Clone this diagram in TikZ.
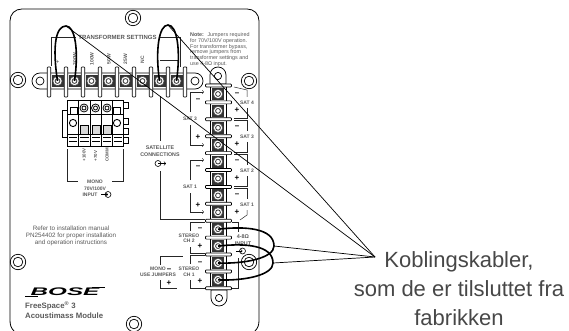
\documentclass[tikz,border=0pt]{standalone}
\usepackage{fontspec}
\setmainfont{Liberation Sans}
\definecolor{printgray}{gray}{0.35}
\definecolor{calloutgray}{gray}{0.28}
\newcommand{\screw}[3]{%
  \coordinate (#1) at (#2,#3);
  \fill[black!80] ([xshift=-6pt,yshift=-6pt]#1) rectangle ([xshift=6pt,yshift=6pt]#1);
  \draw[black!70,fill=white,line width=0.5pt] (#1) circle (4.6pt);
  \draw[black!80,fill=white,line width=0.8pt] (#1) circle (2.4pt);
}
\newcommand{\mounthole}[3]{%
  \coordinate (#1) at (#2,#3);
  \draw[black,line width=0.7pt] (#1) circle (7.7pt);
  \draw[black,line width=0.7pt] (#1) circle (4.8pt);
}
\tikzset{
  panelline/.style={black,line width=0.8pt},
  post/.style={draw=black,fill=white,line width=0.7pt,rounded corners=0.8pt},
  bracket/.style={black!85,line width=0.5pt},
  leader/.style={black,line width=0.7pt},
  jumper/.style={black,line width=1.6pt},
  smalllbl/.style={text=printgray,font=\fontsize{5}{6}\selectfont\bfseries,align=center,inner sep=0pt},
  sign/.style={text=black,font=\fontsize{8}{8}\selectfont\bfseries,inner sep=0pt},
  printtxt/.style={text=printgray,font=\fontsize{6.3}{7.1}\selectfont,align=center,inner sep=0pt},
}
\begin{document}
\begin{tikzpicture}[x=1pt,y=-1pt]
\useasboundingbox (0,0) rectangle (569,331);

% panel:
\draw[panelline] (14,331) .. controls (11,328) and (10,325) .. (10,320) -- (10,21)
  .. controls (10,14) and (15,9) .. (22,9) -- (247,9)
  .. controls (254,9) and (259,14) .. (259,21) -- (259,320)
  .. controls (259,325) and (258,328) .. (255,331);
\mounthole{holetop}{133}{18}
\mounthole{holeleft}{18}{80}
\mounthole{holeright}{249}{81}
\mounthole{holelow}{18}{262}
\mounthole{holeinput}{249}{262}
\mounthole{holebottom}{134}{324}

% transformer strip:
\draw[black,fill=white,line width=0.7pt] (47,73) -- (40,73) arc[start angle=270,end angle=90,radius=8]
  -- (195,89) arc[start angle=90,end angle=-90,radius=8] -- cycle;
\draw[black,line width=0.7pt] (40,81) circle (4pt);
\draw[black,line width=0.7pt] (195,81) circle (4pt);
\draw[post] (47.2,67) rectangle (50.8,97);
\draw[post] (64.2,67) rectangle (67.8,97);
\draw[post] (81.2,67) rectangle (84.8,97);
\draw[post] (98.2,67) rectangle (101.8,97);
\draw[post] (115.2,67) rectangle (118.8,97);
\draw[post] (132.2,67) rectangle (135.8,97);
\draw[post] (149.2,67) rectangle (152.8,97);
\draw[post] (166.2,67) rectangle (169.8,97);
\draw[post] (183.2,67) rectangle (186.8,97);
\screw{tap1}{57.5}{81}
\screw{tap2}{74.5}{81}
\screw{tap3}{91.5}{81}
\screw{tap4}{108.5}{81}
\screw{tap5}{125.5}{81}
\screw{tap6}{142.5}{81}
\screw{tap7}{159.5}{81}
\screw{tap8}{176.5}{81}

% speaker strip:
\draw[black,fill=white,line width=0.7pt] (210,84) -- (210,75) arc[start angle=180,end angle=360,radius=8] -- (226,84) -- cycle;
\draw[black,fill=white,line width=0.7pt] (211,290) -- (211,298) arc[start angle=180,end angle=0,radius=8] -- (227,290) -- cycle;
\draw[black,line width=0.7pt] (218,76) circle (3.6pt);
\draw[black,line width=0.7pt] (219,298) circle (3.6pt);
\draw[black,fill=white,line width=0.7pt] (210,85) rectangle (226,289);
\draw[post] (205.5,84) rectangle (231.5,87);
\draw[post] (205.5,100.9) rectangle (231.5,103.9);
\draw[post] (205.5,117.8) rectangle (231.5,120.8);
\draw[post] (205.5,134.7) rectangle (231.5,137.7);
\draw[post] (205.5,151.6) rectangle (231.5,154.6);
\draw[post] (205.5,168.5) rectangle (231.5,171.5);
\draw[post] (205.5,185.4) rectangle (231.5,188.4);
\draw[post] (205.5,202.3) rectangle (231.5,205.3);
\draw[post] (205.5,219.2) rectangle (231.5,222.2);
\draw[post] (205.5,236.1) rectangle (231.5,239.1);
\draw[post] (205.5,253) rectangle (231.5,256);
\draw[post] (205.5,269.9) rectangle (231.5,272.9);
\draw[post] (205.5,286.8) rectangle (231.5,289.8);
\screw{out1}{218}{94}
\screw{out2}{218}{110.9}
\screw{out3}{218}{127.8}
\screw{out4}{218}{144.7}
\screw{out5}{218}{161.6}
\screw{out6}{218}{178.5}
\screw{out7}{218}{195.4}
\screw{out8}{218}{212.3}
\screw{out9}{218}{229.2}
\screw{out10}{218}{246.1}
\screw{out11}{218}{263}
\screw{out12}{218}{279.9}

% input block:
\draw[black,line width=0.7pt] (62,110) rectangle (67,137);
\draw[black,line width=0.7pt] (123,102) rectangle (128,108);
\draw[black,line width=0.7pt] (123,118) rectangle (128,124);
\draw[black,line width=0.7pt] (123,128) rectangle (128,134);
\draw[black,line width=0.7pt] (123,137) rectangle (128,143);
\draw[black,line width=0.9pt] (67,100) rectangle (123,146);
\draw[black,line width=0.7pt] (67,114) -- (123,114);
\draw[black,line width=0.9pt] (67,134) -- (123,134);
\draw[black,line width=0.7pt] (78,100) -- (78,146);
\draw[black,line width=0.7pt] (90,100) -- (90,146);
\draw[black,line width=0.7pt] (101,100) -- (101,146);
\draw[black,line width=0.7pt] (112,100) -- (112,146);
\draw[black,line width=0.7pt] (70,107) rectangle (77,114);
\draw[black,line width=0.7pt] (113,107) rectangle (120,114);
\draw[black,line width=0.8pt] (84,108) circle (4pt);
\draw[black,line width=0.8pt] (84,108) circle (2pt);
\draw[black,line width=0.8pt] (95.5,108) circle (4pt);
\draw[black,line width=0.8pt] (95.5,108) circle (2pt);
\draw[black,line width=0.8pt] (107,108) circle (4pt);
\draw[black,line width=0.8pt] (107,108) circle (2pt);
\draw[black,line width=0.9pt] (73,123) circle (3.6pt);
\draw[black,line width=0.9pt] (117,123) circle (3.6pt);
\draw[black,fill=black!15,line width=0.6pt] (80,125) rectangle (88,134);
\draw[black,fill=black!15,line width=0.6pt] (92,125) rectangle (100,134);
\draw[black,fill=black!15,line width=0.6pt] (103,125) rectangle (111,134);
\draw[black,line width=1pt] (69,138) -- (77,138);
\draw[black,line width=1pt] (69,142) -- (77,142);
\draw[black,line width=1pt] (80,138) -- (89,138);
\draw[black,line width=1pt] (80,142) -- (89,142);
\draw[black,line width=1pt] (92,138) -- (100,138);
\draw[black,line width=1pt] (92,142) -- (100,142);
\draw[black,line width=1pt] (103,138) -- (111,138);
\draw[black,line width=1pt] (103,142) -- (111,142);
\draw[black,line width=1pt] (114,138) -- (122,138);
\draw[black,line width=1pt] (114,142) -- (122,142);

% tap labels:
\path (58,62) node[smalllbl,rotate=90] (taplbl1) {+};
\path (75,59) node[smalllbl,rotate=90] (taplbl2) {200W};
\path (92,59) node[smalllbl,rotate=90] (taplbl3) {100W};
\path (109,59) node[smalllbl,rotate=90] (taplbl4) {50W};
\path (125.5,59) node[smalllbl,rotate=90] (taplbl5) {25W};
\path (142.5,60) node[smalllbl,rotate=90] (taplbl6) {NC};
\path (117.5,37) node[smalllbl,font=\fontsize{6}{7}\selectfont\bfseries] (settings) {TRANSFORMER SETTINGS};
\draw[bracket] (51,66) -- (51,37) -- (76,37);
\draw[bracket] (159,37) -- (180,37) -- (180,67);
\draw[bracket] (160,60) -- (178,60);
\path (190,32.5) node[printtxt,anchor=north west,align=left,font=\fontsize{5.4}{5.75}\selectfont] (note) {\textbf{Note:} \ Jumpers required\\for 70V/100V operation.\\For transformer bypass,\\remove jumpers from\\transformer settings and\\use 4-8Ω input.};

% input block labels:
\path (84,155) node[smalllbl,rotate=90,font=\fontsize{4.4}{5}\selectfont\bfseries] (inlbl1) {+100V};
\path (95.5,156) node[smalllbl,rotate=90,font=\fontsize{4.4}{5}\selectfont\bfseries] (inlbl2) {+70V};
\path (107,155) node[smalllbl,rotate=90,font=\fontsize{4.4}{5}\selectfont\bfseries] (inlbl3) {COMM};
\draw[bracket] (67,149) -- (67,181) -- (78,181);
\draw[bracket] (112,181) -- (123,181) -- (123,149);
\path (95,182) node[smalllbl] (monolbl) {MONO};
\path (95,188.5) node[smalllbl] (voltlbl) {70V/100V};
\path (90,195) node[smalllbl] (inputlbl) {INPUT};
\draw[black,line width=0.6pt] (108,194.5) circle (3pt);
\draw[arrows=-to,black,line width=0.6pt] (101,194.5) -- (108,194.5);

% satellite wire:
\draw[bracket] (160,96) -- (160,141);
\path (160,148) node[smalllbl,font=\fontsize{5.3}{6}\selectfont\bfseries] (satlbl1) {SATELLITE};
\path (160,155) node[smalllbl,font=\fontsize{5.3}{6}\selectfont\bfseries] (satlbl2) {CONNECTIONS};
\draw[black,line width=0.6pt] (158,163.5) circle (3pt);
\draw[arrows=-to,black,line width=0.6pt] (158,163.5) -- (166,163.5);
\draw[bracket] (160,171) -- (160,219) -- (205,219);

% left satellite brackets:
\draw[arrows=-to,bracket] (190,112) -- (190,92) -- (204,92);
\draw[arrows=-to,bracket] (190,125) -- (190,145) -- (204,145);
\draw[arrows=-to,bracket] (190,180) -- (190,160) -- (204,160);
\draw[arrows=-to,bracket] (190,193) -- (190,212) -- (204,212);
\path (190,119) node[smalllbl] (satleft3) {SAT 3};
\path (190,187) node[smalllbl] (satleft1) {SAT 1};
\path (198,100) node[sign] (m1) {--};
\path (198,137) node[sign] (p1) {+};
\path (198,167) node[sign] (m2) {--};
\path (198,205) node[sign] (p2) {+};

% right satellite brackets:
\draw[bracket] (234,87) -- (247,90) -- (247,97);
\draw[bracket] (247,108) -- (247,118) -- (234,118);
\draw[bracket] (234,120.5) -- (247,120.5) -- (247,131);
\draw[bracket] (247,142) -- (247,152) -- (234,152);
\draw[bracket] (234,154.5) -- (247,154.5) -- (247,165);
\draw[bracket] (247,176) -- (247,186) -- (234,186);
\draw[bracket] (234,188.5) -- (247,188.5) -- (247,199);
\draw[bracket] (247,210) -- (247,215) -- (240,220);
\path (247,102.5) node[smalllbl] (satright4) {SAT 4};
\path (247,136.5) node[smalllbl] (satright3) {SAT 3};
\path (247,170.5) node[smalllbl] (satright2) {SAT 2};
\path (247,204.5) node[smalllbl] (satright1) {SAT 1};
\path (237,94) node[sign] (m3) {--};
\path (237,110) node[sign] (p3) {+};
\path (237,127.5) node[sign] (m4) {--};
\path (237,144) node[sign] (p4) {+};
\path (237,161) node[sign] (m5) {--};
\path (237,178) node[sign] (p5) {+};
\path (237,195) node[sign] (m6) {--};
\path (237,212) node[sign] (p6) {+};

% stereo and mono brackets:
\draw[bracket] (190,231) -- (190,222) -- (205,222);
\draw[bracket] (190,247) -- (190,253.5) -- (205,253.5);
\draw[bracket] (190,264) -- (190,255.5) -- (205,255.5);
\draw[bracket] (190,280) -- (190,288) -- (205,288);
\draw[bracket] (160,265) -- (160,256) -- (183,256);
\draw[bracket] (160,280) -- (160,288) -- (177,288);
\draw[bracket] (232,222) -- (238,222) -- (238,232);
\draw[bracket] (238,258) -- (238,288) -- (232,288);
\path (189,235.5) node[smalllbl] (stereo2a) {STEREO};
\path (189,241) node[smalllbl] (stereo2b) {CH 2};
\path (189,269) node[smalllbl] (stereo1a) {STEREO};
\path (189,274.5) node[smalllbl] (stereo1b) {CH 1};
\path (158,269) node[smalllbl] (monouse1) {MONO};
\path (158,274.5) node[smalllbl] (monouse2) {USE JUMPERS};
\path (200,229.5) node[sign] (m7) {--};
\path (200,246) node[sign] (p7) {+};
\path (200,263) node[sign] (m8) {--};
\path (200,281) node[sign] (p8) {+};
\path (169,270) node[sign] (m9) {--};
\path (169,283) node[sign] (p9) {+};
\path (243,237) node[smalllbl,font=\fontsize{5.4}{6}\selectfont\bfseries] (ohmlbl) {4-8Ω};
\path (243,244) node[smalllbl,font=\fontsize{5.4}{6}\selectfont\bfseries] (inputlbl2) {INPUT};
\draw[black,line width=0.6pt] (242.5,251) circle (3pt);
\draw[arrows=-to,black,line width=0.6pt] (236,251) -- (242.5,251);

% printed text:
\path (71,236) node[printtxt] (refer) {Refer to installation manual\\PN254402 for proper installation\\and operation instructions};
\path (65,292) node[inner sep=0pt,font=\fontsize{11}{11}\selectfont\bfseries\itshape] (bose) {\scalebox{2.2}[1]{BOSE}};
\draw[black,line width=1pt] (25,296.7) -- (38,296.7);
\draw[black,line width=1pt] (92,287.5) -- (105,287.5);
\path (25,306) node[printtxt,anchor=west,font=\fontsize{7.8}{9}\selectfont\bfseries] (model) {FreeSpace\textsuperscript{\textregistered} 3};
\path (25,316) node[printtxt,anchor=west,font=\fontsize{7.8}{9}\selectfont\bfseries] (modelname) {Acoustimass Module};

% jumpers:
\draw[jumper] (tap1) .. controls (52,45) and (56,26) .. (66,26) .. controls (75,26) and (79,50) .. (tap2);
\draw[jumper] (tap7) .. controls (155,50) and (159,25) .. (168,25) .. controls (177,25) and (181,50) .. (tap8);
\draw[jumper] (out9) .. controls (245,226) and (274,228) .. (274,246) .. controls (274,258) and (245,264) .. (out11);
\draw[jumper] (out10) .. controls (245,243) and (273,245) .. (273,263) .. controls (273,275) and (245,281) .. (out12);

% callout:
\coordinate (callout) at (375,257);
\coordinate (topleft) at (66,26);
\coordinate (topright) at (168,25);
\coordinate (loopup) at (274,246);
\coordinate (looplow) at (273,263);
\draw[leader] (topleft) -- (callout);
\draw[leader] (topright) -- (callout);
\draw[leader] (loopup) -- (callout);
\draw[leader] (looplow) -- (callout);
\path (459,289) node[text=calloutgray,font=\fontsize{22}{29}\selectfont,align=center,inner sep=0pt] (calloutlbl) {Koblingskabler,\\som de er tilsluttet fra\\fabrikken};

\end{tikzpicture}
\end{document}
